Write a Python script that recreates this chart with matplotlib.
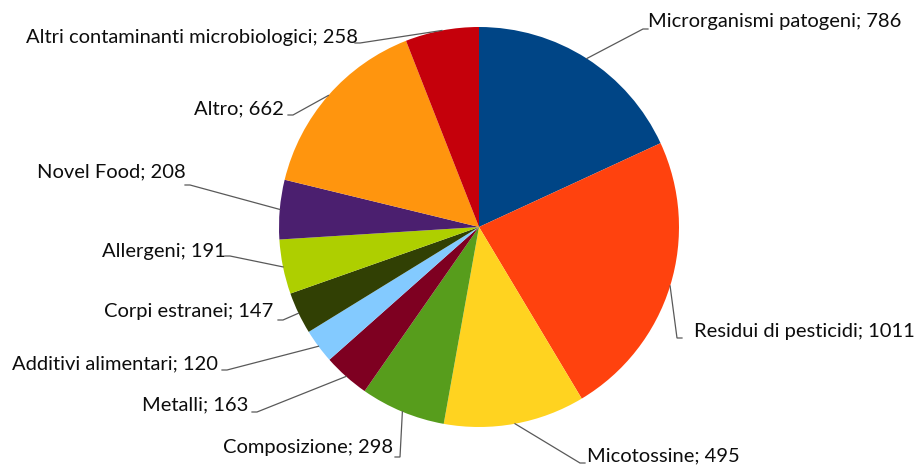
import numpy as np
import matplotlib
matplotlib.use('Agg')
import matplotlib.pyplot as plt

# data
categories = ['Microrganismi patogeni', 'Residui di pesticidi', 'Micotossine',
              'Composizione', 'Metalli', 'Additivi alimentari', 'Corpi estranei',
              'Allergeni', 'Novel Food', 'Altro',
              'Altri contaminanti microbiologici']
values = [786, 1011, 495, 298, 163, 120, 147, 191, 208, 662, 258]
colors = ['#004586', '#ff420e', '#ffd320', '#579d1c', '#7e0021', '#83caff',
          '#314004', '#aecf00', '#4b1f6f', '#ff950e', '#c5000b']

# label layout, in image pixels (x, y, alignment) and leader elbow points
label_pos = [(648, 22, 'left'), (694, 332, 'left'), (587, 456, 'left'),
             (393, 448, 'right'), (248, 405, 'right'), (218, 364, 'right'),
             (273, 312, 'right'), (226, 251, 'right'), (186, 172, 'right'),
             (284, 109, 'right'), (358, 37, 'right')]
elbows = [(643, 29), (677, 338), (580, 463), (400, 457), (257, 412),
          (227, 370), (283, 320), (230, 256), (190, 185), (293, 115), (360, 43)]

W, H = 916, 466
cx, cy, R = 479, 227, 200

def fy(y):
    return H - y

fig = plt.figure(figsize=(W/100, H/100), dpi=100)
ax = fig.add_axes([0, 0, 1, 1])

wedges, _ = ax.pie(values, colors=colors, startangle=90, counterclock=False,
                   center=(cx, fy(cy)), radius=R,
                   wedgeprops=dict(linewidth=0))

for w, name, v, (tx, ty, ha), (ex, ey) in zip(wedges, categories, values, label_pos, elbows):
    ang = np.deg2rad((w.theta1 + w.theta2) / 2)
    px = cx + R*np.cos(ang)
    py = fy(cy) + R*np.sin(ang)
    sx = ex + 5 if ha == 'left' else ex - 5
    ax.plot([px, ex, sx], [py, fy(ey), fy(ey)], color='#595959', lw=0.9,
            solid_joinstyle='miter')
    ax.text(tx, fy(ty), '{}; {}'.format(name, v), ha=ha, va='center',
            fontsize=14.5, family='Lato', color='#0d0d0d')

ax.set_xlim(0, W)
ax.set_ylim(0, H)
ax.set_aspect('equal')
ax.axis('off')

fig.savefig('out.png', dpi=100)
